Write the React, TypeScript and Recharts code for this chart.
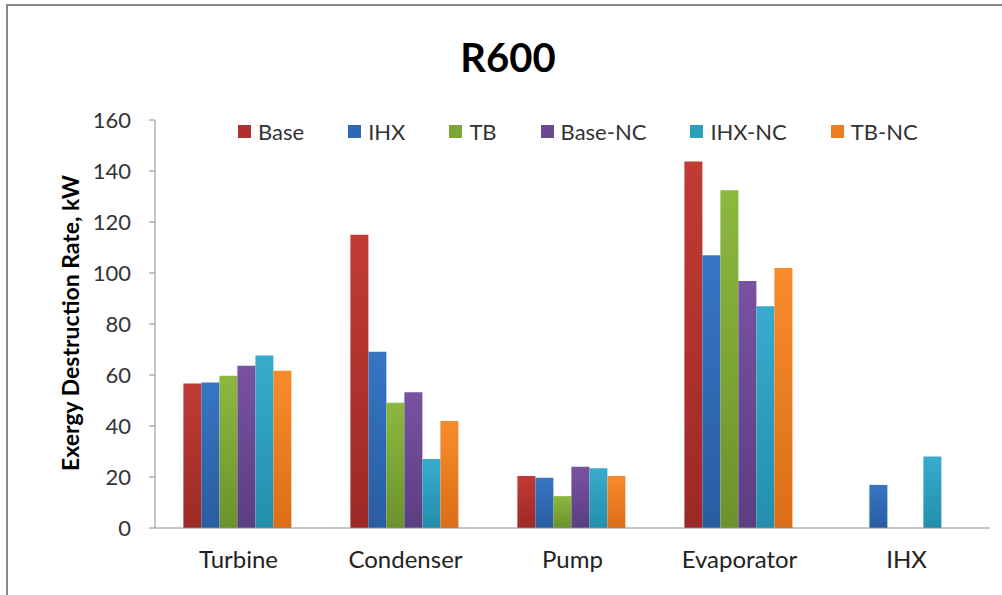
import React from 'react';
import { BarChart, Bar, XAxis, YAxis } from 'recharts';

const components = ['Turbine', 'Condenser', 'Pump', 'Evaporator', 'IHX'];
const baseValues = [56.7, 115, 20.4, 143.7, 0];
const ihxValues = [57.1, 69.1, 19.7, 107, 16.9];
const tbValues = [59.7, 49.1, 12.5, 132.5, 0];
const baseNcValues = [63.6, 53.2, 24, 96.9, 0];
const ihxNcValues = [67.6, 27.1, 23.4, 87, 28];
const tbNcValues = [61.7, 42, 20.4, 102, 0];
const yTicks = [0, 20, 40, 60, 80, 100, 120, 140, 160];

const series = [
  { key: 'Base', values: baseValues, color: '#B0302D', top: '#C23B35', bottom: '#9C2926' },
  { key: 'IHX', values: ihxValues, color: '#2F69B3', top: '#3775C3', bottom: '#295DA2' },
  { key: 'TB', values: tbValues, color: '#7EA636', top: '#8DB83F', bottom: '#6C922E' },
  { key: 'Base-NC', values: baseNcValues, color: '#6A4893', top: '#7852A2', bottom: '#5B3E82' },
  { key: 'IHX-NC', values: ihxNcValues, color: '#2C9EBE', top: '#38ABCC', bottom: '#238FAC' },
  { key: 'TB-NC', values: tbNcValues, color: '#EE7E1F', top: '#F88C2C', bottom: '#DB6E17' },
];

const data = components.map((name, i) => {
  const row: Record<string, string | number> = { name };
  series.forEach((s) => {
    row[s.key] = s.values[i];
  });
  return row;
});

const font = 'Lato, "Open Sans", sans-serif';

// legend drawn as plain html so it doesn't push the plot area down
const ChartLegend = () => (
  <div
    style={{
      position: 'absolute',
      left: 238,
      top: 118,
      display: 'flex',
      alignItems: 'center',
      fontFamily: font,
      fontSize: 22,
      color: '#333',
    }}
  >
    {series.map((s) => (
      <div key={s.key} style={{ display: 'flex', alignItems: 'center', marginRight: 44 }}>
        <span style={{ width: 13, height: 13, background: s.color, display: 'inline-block', marginRight: 7 }} />
        <span>{s.key}</span>
      </div>
    ))}
  </div>
);

const App = () => {
  return (
    <div style={{ position: 'absolute', left: 0, top: 0, width: 1002, height: 595, background: '#fff' }}>
      <div
        style={{
          position: 'absolute',
          left: 6,
          top: 4,
          width: 996,
          height: 591,
          borderTop: '2px solid #8a8a8a',
          borderLeft: '2px solid #8a8a8a',
          boxSizing: 'border-box',
        }}
      />
      <div
        style={{
          position: 'absolute',
          left: 0,
          top: 33,
          width: 1016,
          textAlign: 'center',
          fontFamily: font,
          fontWeight: 700,
          fontSize: 40,
          color: '#000',
        }}
      >
        R600
      </div>
      <div
        style={{
          position: 'absolute',
          left: 70,
          top: 323,
          transform: 'translate(-50%, -50%) rotate(-90deg)',
          whiteSpace: 'nowrap',
          fontFamily: font,
          fontWeight: 700,
          fontSize: 23,
          color: '#000',
        }}
      >
        Exergy Destruction Rate, kW
      </div>
      <div style={{ position: 'absolute', left: 0, top: 0 }}>
        <BarChart
          width={1002}
          height={595}
          data={data}
          margin={{ top: 120, right: 12, bottom: 0, left: 0 }}
          barCategoryGap="17%"
          barGap={0}
        >
          <defs>
            {series.map((s, i) => (
              <linearGradient key={s.key} id={`grad${i}`} x1="0" y1="0" x2="0" y2="1">
                <stop offset="0%" stopColor={s.top} />
                <stop offset="100%" stopColor={s.bottom} />
              </linearGradient>
            ))}
          </defs>
          <XAxis
            dataKey="name"
            height={67}
            axisLine={{ stroke: '#8c8c8c' }}
            tickLine={false}
            tickSize={6}
            tickMargin={17}
            tick={{ fontFamily: font, fontSize: 24, fill: '#222' }}
          />
          <YAxis
            width={155}
            domain={[0, 160]}
            ticks={yTicks}
            interval={0}
            axisLine={{ stroke: '#8c8c8c' }}
            tickLine={{ stroke: '#8c8c8c' }}
            tickSize={6}
            tickMargin={18}
            tick={{ fontFamily: font, fontSize: 22, fill: '#333' }}
          />
          {series.map((s, i) => (
            <Bar key={s.key} dataKey={s.key} fill={`url(#grad${i})`} isAnimationActive={false} />
          ))}
        </BarChart>
      </div>
      <ChartLegend />
    </div>
  );
};

export default App;
